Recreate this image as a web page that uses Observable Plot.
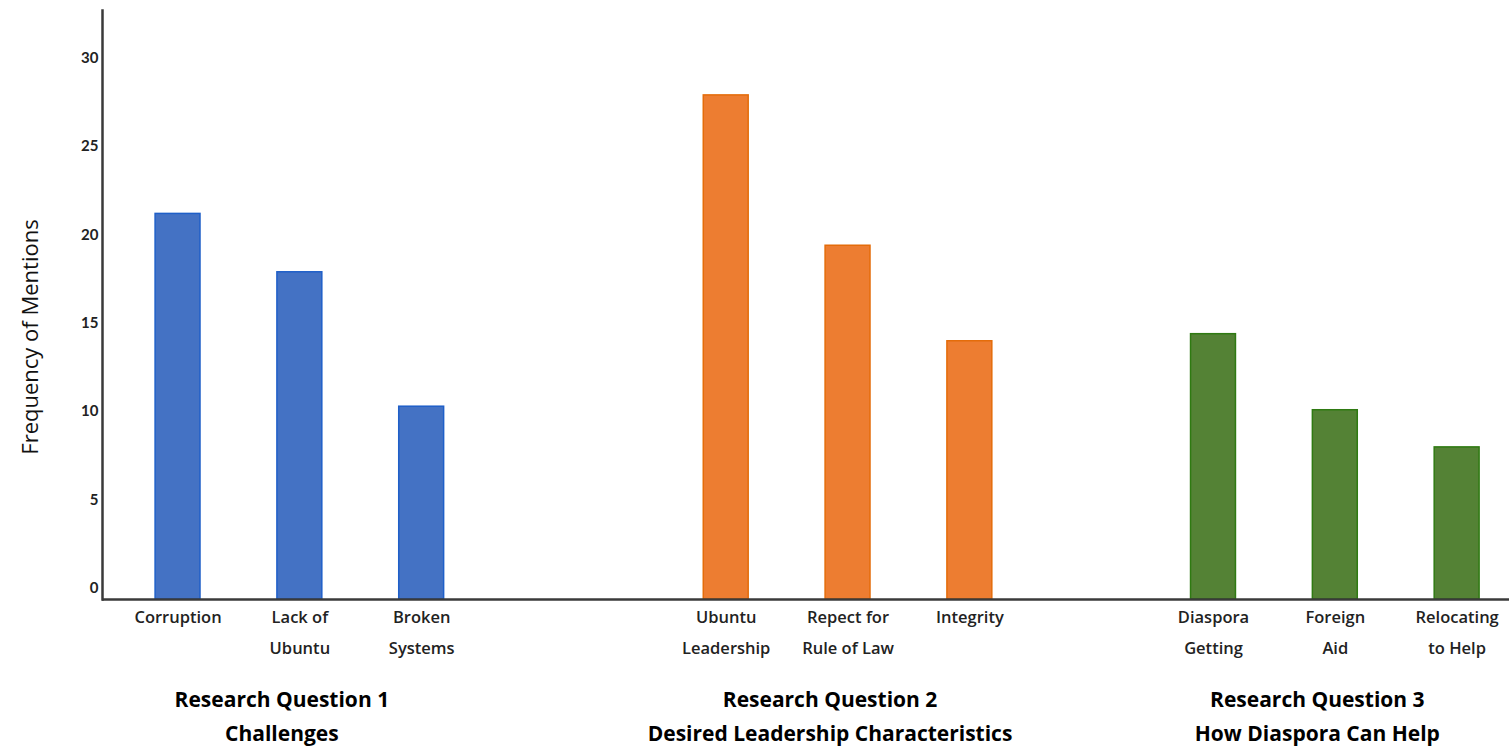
<!DOCTYPE html>
<html>
<head>
<meta charset="utf-8">
<script src="https://cdn.jsdelivr.net/npm/d3@7"></script>
<script src="https://cdn.jsdelivr.net/npm/@observablehq/plot@0.6"></script>
<style>
  html, body { margin: 0; padding: 0; background: #fff; }
  #chart svg { display: block; }
</style>
</head>
<body>
<div id="chart"></div>
<script>
// ---- data ----
const categories = ["Corruption", "Lack of Ubuntu", "Broken Systems",
  "Ubuntu Leadership", "Repect for Rule of Law", "Integrity",
  "Diaspora Getting", "Foreign Aid", "Relocating to Help"];
const tickLabels = ["Corruption", "Lack of\nUbuntu", "Broken\nSystems",
  "Ubuntu\nLeadership", "Repect for\nRule of Law", "Integrity",
  "Diaspora\nGetting", "Foreign\nAid", "Relocating\nto Help"];
const groups = ["RQ1", "RQ1", "RQ1", "RQ2", "RQ2", "RQ2", "RQ3", "RQ3", "RQ3"];
const values = [21.8, 18.5, 10.9, 28.5, 20.0, 14.6, 15.0, 10.7, 8.6];
const groupNames = ["RQ1", "RQ2", "RQ3"];
const groupTitles = ["Research Question 1\nChallenges",
  "Research Question 2\nDesired Leadership Characteristics",
  "Research Question 3\nHow Diaspora Can Help"];
const yTicks = [0, 5, 10, 15, 20, 25, 30];

// ---- styles ----
const fills = ["#4472C4", "#ED7D31", "#548235"];
const strokes = ["#1F5FC8", "#E46C0A", "#2F7A12"];

const table = categories.map((c, i) => ({category: c, group: groups[i], value: values[i]}));
const labelOf = new Map(categories.map((c, i) => [c, tickLabels[i]]));
const strokeOf = new Map(groupNames.map((g, i) => [g, strokes[i]]));

// x domain: categories with blank spacer slots between bars and groups
const xDomain = [];
let sp = 0;
const spacer = () => "\u200b" + (sp++);
groupNames.forEach((g, gi) => {
  const cats = categories.filter((c, i) => groups[i] === g);
  cats.forEach((c, ci) => {
    xDomain.push(c);
    if (ci < cats.length - 1) xDomain.push(spacer());
  });
  if (gi === 0) for (let k = 0; k < 4; k++) xDomain.push(spacer());
  if (gi === 1) for (let k = 0; k < 3; k++) xDomain.push(spacer());
});
const groupMid = groupNames.map(g => categories.filter((c, i) => groups[i] === g)[1]);
const titleTable = groupNames.map((g, i) => ({mid: groupMid[i], title: groupTitles[i]}));

const chart = Plot.plot({
  width: 1509,
  height: 749,
  marginLeft: 102,
  marginRight: 0,
  marginTop: 10,
  marginBottom: 150,
  style: {fontFamily: "'Open Sans', sans-serif", background: "#fff"},
  x: {type: "band", domain: xDomain, paddingInner: 0, paddingOuter: 0.55, align: 0.673, round: false},
  y: {domain: [0, 33.3]},
  color: {domain: groupNames, range: fills},
  marks: [
    Plot.barY(table, {
      x: "category", y: "value", fill: "group",
      stroke: d => strokeOf.get(d.group), strokeWidth: 1.5,
      insetLeft: 8, insetRight: 8
    }),
    Plot.ruleY([0], {stroke: "#3a3a3a", strokeWidth: 2.5}),
    Plot.frame({anchor: "left", stroke: "#3a3a3a", strokeWidth: 2.5}),
    Plot.axisY({
      ticks: yTicks, tickSize: 0, tickPadding: 4, dy: -11,
      label: null, fontSize: 15, fontWeight: "bold", fill: "#222",
      fontFamily: "Lato, sans-serif"
    }),
    Plot.axisX(categories, {
      tickSize: 0, tickPadding: 1, label: null,
      tickFormat: c => labelOf.get(c),
      fontSize: 16.5, fontWeight: 600, lineHeight: 1.9, fill: "#222"
    }),
    Plot.text(titleTable, {
      x: "mid", text: "title", frameAnchor: "bottom", lineAnchor: "middle",
      dx: -18, dy: 114, fontSize: 21, fontWeight: "bold", lineHeight: 1.62, fill: "#000"
    }),
    Plot.text(["Frequency of Mentions"], {
      frameAnchor: "left", textAnchor: "middle", rotate: -90, dx: -72, dy: 32,
      fontSize: 22, fill: "#111"
    })
  ]
});
document.getElementById("chart").appendChild(chart);
</script>
</body>
</html>
